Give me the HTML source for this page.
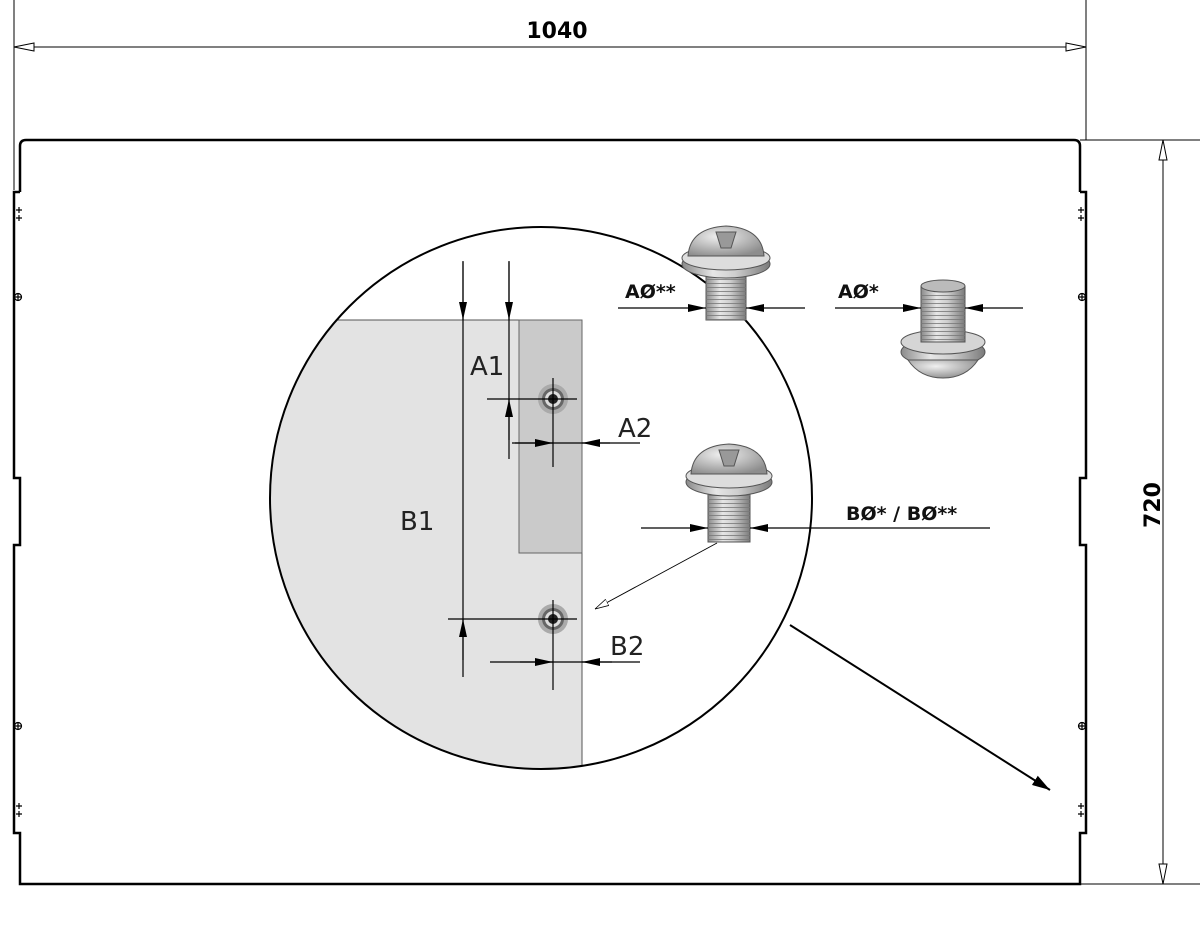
<!DOCTYPE html>
<html><head><meta charset="utf-8"><style>
html,body{margin:0;padding:0;background:#fff;width:1200px;height:929px;overflow:hidden}
svg{display:block}
text{font-family:"DejaVu Sans","Liberation Sans",sans-serif}
</style></head><body>
<svg width="1200" height="929" viewBox="0 0 1200 929" xmlns="http://www.w3.org/2000/svg">
<defs>
<linearGradient id="mg" x1="0" x2="1" y1="0" y2="0">
<stop offset="0" stop-color="#8a8a8a"/><stop offset="0.35" stop-color="#e6e6e6"/><stop offset="0.6" stop-color="#cfcfcf"/><stop offset="1" stop-color="#7a7a7a"/></linearGradient>
<radialGradient id="dg" cx="0.4" cy="0.35" r="0.7"><stop offset="0" stop-color="#f0f0f0"/><stop offset="1" stop-color="#8d8d8d"/></radialGradient>
<pattern id="th" width="4" height="4" patternUnits="userSpaceOnUse"><rect width="4" height="4" fill="none"/><line x1="0" y1="3.5" x2="4" y2="3.5" stroke="#777" stroke-width="0.8"/></pattern>
<marker id="ar" markerWidth="18" markerHeight="8" refX="18" refY="4" orient="auto" markerUnits="userSpaceOnUse"><path d="M0,0 L18,4 L0,8 Z" fill="#000"/></marker>
<marker id="ao" markerWidth="14" markerHeight="8" refX="14" refY="4" orient="auto" markerUnits="userSpaceOnUse"><path d="M0,0.5 L14,4 L0,7.5 Z" fill="#fff" stroke="#000" stroke-width="0.8"/></marker>
<marker id="ab" markerWidth="18" markerHeight="11" refX="18" refY="5.5" orient="auto" markerUnits="userSpaceOnUse"><path d="M0,0 L18,5.5 L0,11 Z" fill="#000"/></marker>
</defs>
<g stroke="#000" stroke-width="1" fill="none">
<line x1="14" y1="0" x2="14" y2="190"/>
<line x1="1086" y1="0" x2="1086" y2="140"/>
<line x1="14" y1="47" x2="1086" y2="47"/>
<path d="M14,47 L34,43 L34,51 Z" fill="#fff"/>
<path d="M1086,47 L1066,43 L1066,51 Z" fill="#fff"/>
<line x1="1080" y1="140" x2="1200" y2="140"/>
<line x1="1080" y1="884" x2="1200" y2="884"/>
<line x1="1163" y1="140" x2="1163" y2="884"/>
<path d="M1163,140 L1159,160 L1167,160 Z" fill="#fff"/>
<path d="M1163,884 L1159,864 L1167,864 Z" fill="#fff"/>
</g>
<text x="557" y="38" font-size="22" font-weight="bold" text-anchor="middle">1040</text>
<text transform="translate(1160,505) rotate(-90)" font-size="22" font-weight="bold" text-anchor="middle">720</text>
<g stroke="#000" stroke-width="2.5" fill="none">
<path d="M20,192 L20,146 Q20,140 26,140 L1074,140 Q1080,140 1080,146 L1080,192"/>
<path d="M20,192 L14,192 L14,478 L20,478 L20,545 L14,545 L14,833 L20,833 L20,884 L1080,884 L1080,833 L1086,833 L1086,545 L1080,545 L1080,478 L1086,478 L1086,192 L1080,192"/>
</g>
<g stroke="#000" stroke-width="1.2" fill="none">
<path d="M16,210 h6 M19,207 v6 M16,218 h6 M19,215 v6"/>
<circle cx="18" cy="297" r="3.5"/><path d="M14,297 h8 M18,293 v8"/>
<circle cx="18" cy="726" r="3.5"/><path d="M14,726 h8 M18,722 v8"/>
<path d="M16,806 h6 M19,803 v6 M16,814 h6 M19,811 v6"/>
<path d="M1078,210 h6 M1081,207 v6 M1078,218 h6 M1081,215 v6"/>
<circle cx="1082" cy="297" r="3.5"/><path d="M1078,297 h8 M1082,293 v8"/>
<circle cx="1082" cy="726" r="3.5"/><path d="M1078,726 h8 M1082,722 v8"/>
<path d="M1078,806 h6 M1081,803 v6 M1078,814 h6 M1081,811 v6"/>
</g>
<clipPath id="cc"><circle cx="541" cy="498" r="271"/></clipPath>
<g clip-path="url(#cc)">
<path d="M250,320 L577,320 Q582,320 582,325 L582,800 L250,800 Z" fill="#e3e3e3" stroke="#555" stroke-width="1"/>
<rect x="519" y="320" width="63" height="233" fill="#cacaca" stroke="#666" stroke-width="1"/>
</g>
<circle cx="541" cy="498" r="271" fill="none" stroke="#000" stroke-width="2"/>
<g>
<circle cx="553" cy="399" r="15" fill="#aaa"/><circle cx="553" cy="399" r="11" fill="#666"/><circle cx="553" cy="399" r="8" fill="#ddd"/><circle cx="553" cy="399" r="5" fill="#222"/>
<circle cx="553" cy="619" r="15" fill="#aaa"/><circle cx="553" cy="619" r="11" fill="#666"/><circle cx="553" cy="619" r="8" fill="#ddd"/><circle cx="553" cy="619" r="5" fill="#222"/>
</g>
<g stroke="#000" stroke-width="1.2" fill="none">
<line x1="463" y1="261" x2="463" y2="677"/>
<line x1="509" y1="261" x2="509" y2="459"/>
<line x1="463" y1="262" x2="463" y2="320" marker-end="url(#ar)"/>
<line x1="509" y1="262" x2="509" y2="320" marker-end="url(#ar)"/>
<line x1="509" y1="440" x2="509" y2="399" marker-end="url(#ar)"/>
<line x1="463" y1="660" x2="463" y2="619" marker-end="url(#ar)"/>
<line x1="487" y1="399" x2="577" y2="399"/>
<line x1="553" y1="378" x2="553" y2="467"/>
<line x1="512" y1="443" x2="640" y2="443"/>
<line x1="515" y1="443" x2="553" y2="443" marker-end="url(#ar)"/>
<line x1="610" y1="443" x2="582" y2="443" marker-end="url(#ar)"/>
<line x1="448" y1="619" x2="577" y2="619"/>
<line x1="553" y1="600" x2="553" y2="690"/>
<line x1="490" y1="662" x2="640" y2="662"/>
<line x1="520" y1="662" x2="553" y2="662" marker-end="url(#ar)"/>
<line x1="612" y1="662" x2="582" y2="662" marker-end="url(#ar)"/>
</g>
<g font-size="26" fill="#222">
<text x="470" y="375">A1</text>
<text x="618" y="437">A2</text>
<text x="400" y="530">B1</text>
<text x="610" y="655">B2</text>
</g>
<g stroke="#555" stroke-width="1">
<rect x="706" y="276" width="40" height="44" fill="url(#mg)"/>
<rect x="706" y="276" width="40" height="44" fill="url(#th)" stroke="none"/>
<ellipse cx="726" cy="264" rx="44" ry="14" fill="url(#mg)"/>
<ellipse cx="726" cy="258" rx="44" ry="12" fill="#ddd"/>
<path d="M688,256 Q690,228 726,226 Q762,228 764,256 Z" fill="url(#dg)"/>
<path d="M716,232 L736,232 L731,248 L721,248 Z" fill="#999"/>
</g>
<g stroke="#555" stroke-width="1">
<ellipse cx="943" cy="352" rx="42" ry="14" fill="url(#mg)"/>
<path d="M908,360 Q920,378 943,378 Q966,378 978,360 Z" fill="url(#dg)"/>
<ellipse cx="943" cy="342" rx="42" ry="12" fill="#d5d5d5"/>
<rect x="921" y="286" width="44" height="56" fill="url(#mg)"/>
<rect x="921" y="292" width="44" height="50" fill="url(#th)" stroke="none"/>
<ellipse cx="943" cy="286" rx="22" ry="6" fill="#bbb"/>
</g>
<g stroke="#555" stroke-width="1">
<rect x="708" y="494" width="42" height="48" fill="url(#mg)"/>
<rect x="708" y="494" width="42" height="48" fill="url(#th)" stroke="none"/>
<ellipse cx="729" cy="482" rx="43" ry="14" fill="url(#mg)"/>
<ellipse cx="729" cy="476" rx="43" ry="12" fill="#ddd"/>
<path d="M691,474 Q693,446 729,444 Q765,446 767,474 Z" fill="url(#dg)"/>
<path d="M719,450 L739,450 L734,466 L724,466 Z" fill="#999"/>
</g>
<g stroke="#000" stroke-width="1.2" fill="none">
<line x1="618" y1="308" x2="706" y2="308" marker-end="url(#ar)"/>
<line x1="805" y1="308" x2="746" y2="308" marker-end="url(#ar)"/>
<line x1="835" y1="308" x2="921" y2="308" marker-end="url(#ar)"/>
<line x1="1023" y1="308" x2="965" y2="308" marker-end="url(#ar)"/>
<line x1="641" y1="528" x2="708" y2="528" marker-end="url(#ar)"/>
<line x1="990" y1="528" x2="750" y2="528" marker-end="url(#ar)"/>
<line x1="717" y1="543" x2="595" y2="609" stroke-width="0.9" marker-end="url(#ao)"/>
<line x1="790" y1="625" x2="1050" y2="790" stroke-width="2" marker-end="url(#ab)"/>
</g>
<g font-size="19" font-weight="bold" fill="#111">
<text x="625" y="298">AØ**</text>
<text x="838" y="298">AØ*</text>
<text x="846" y="520">BØ* / BØ**</text>
</g>
</svg>
</body></html>
